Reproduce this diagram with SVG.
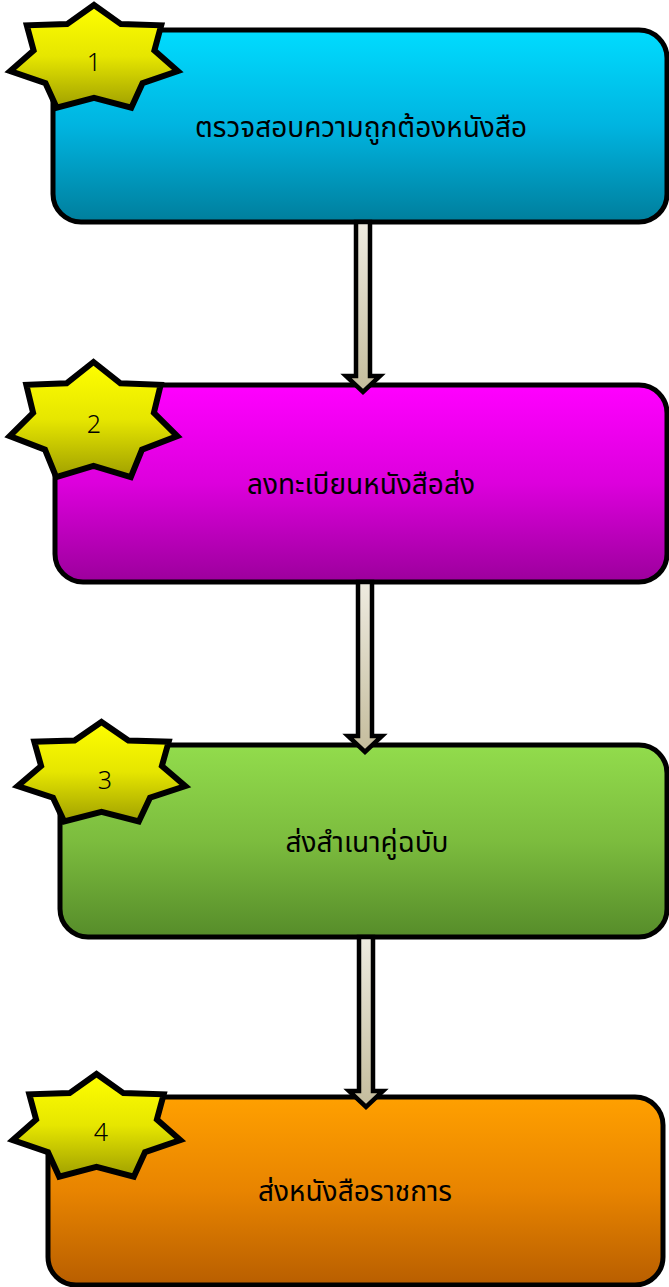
<svg xmlns="http://www.w3.org/2000/svg" width="669" height="1287" viewBox="0 0 669 1287">
<defs>
<linearGradient id="gCyan" x1="0" y1="0" x2="0" y2="1"><stop offset="0" stop-color="#00DCFF"/><stop offset="0.5" stop-color="#00B4E0"/><stop offset="1" stop-color="#007E9C"/></linearGradient>
<linearGradient id="gMag" x1="0" y1="0" x2="0" y2="1"><stop offset="0" stop-color="#FF00FF"/><stop offset="0.5" stop-color="#DC00DC"/><stop offset="1" stop-color="#9C009C"/></linearGradient>
<linearGradient id="gGreen" x1="0" y1="0" x2="0" y2="1"><stop offset="0" stop-color="#92DC4C"/><stop offset="0.5" stop-color="#7CBC3E"/><stop offset="1" stop-color="#568C2A"/></linearGradient>
<linearGradient id="gOrange" x1="0" y1="0" x2="0" y2="1"><stop offset="0" stop-color="#FFA000"/><stop offset="0.5" stop-color="#E88400"/><stop offset="1" stop-color="#B85E00"/></linearGradient>
<linearGradient id="gStar" x1="0" y1="0" x2="0" y2="1"><stop offset="0" stop-color="#FFFF00"/><stop offset="0.5" stop-color="#E6E600"/><stop offset="1" stop-color="#A0A000"/></linearGradient>
<linearGradient id="gArrow" x1="0" y1="0" x2="0" y2="1"><stop offset="0" stop-color="#EEEBE0"/><stop offset="1" stop-color="#C4BC9C"/></linearGradient>
<path id="star" vector-effect="non-scaling-stroke" d="M0,-51.5 L26.9,-33.3 L67.2,-32.1 L60.4,-8.2 L83.8,11.5 L48.5,23.1 L37.3,46.4 L0,37 L-37.3,46.4 L-48.5,23.1 L-83.8,11.5 L-60.4,-8.2 L-67.2,-32.1 L-26.9,-33.3 Z"/>
</defs>
<style>
.box{stroke:#000;stroke-width:5}
.star{fill:url(#gStar);stroke:#000;stroke-width:6;stroke-linejoin:miter}
.arrow{fill:url(#gArrow);stroke:#000;stroke-width:4.5;stroke-linejoin:miter}
.lbl{font-family:"Noto Sans Thai","Noto Sans","DejaVu Sans",sans-serif;font-size:28px;fill:#000;text-anchor:middle}
.num{font-family:"Noto Sans Thai","Noto Sans","DejaVu Sans",sans-serif;font-size:25px;font-weight:300;fill:#000;text-anchor:middle}
</style>
<rect width="669" height="1287" fill="#fff"/>
<g id="node1">
<rect class="box" x="53" y="30" width="614" height="192" rx="28" fill="url(#gCyan)"/>
<text class="lbl" x="361" y="137">ตรวจสอบความถูกต้องหนังสือ</text>
</g>
<g id="node2">
<rect class="box" x="55" y="385" width="612" height="197" rx="28" fill="url(#gMag)"/>
<text class="lbl" x="361" y="494">ลงทะเบียนหนังสือส่ง</text>
</g>
<g id="node3">
<rect class="box" x="60" y="745" width="607" height="192" rx="28" fill="url(#gGreen)"/>
<text class="lbl" x="367" y="852">ส่งสำเนาคู่ฉบับ</text>
</g>
<g id="node4">
<rect class="box" x="48" y="1097" width="615" height="188" rx="28" fill="url(#gOrange)"/>
<text class="lbl" x="355" y="1201">ส่งหนังสือราชการ</text>
</g>
<g id="connectors">
<path class="arrow" d="M356,222 L370,222 L370,376 L380,376 L363,392 L346,376 L356,376 Z"/>
<path class="arrow" d="M358,582 L372,582 L372,736 L382,736 L365,752 L348,736 L358,736 Z"/>
<path class="arrow" d="M359,937 L373,937 L373,1091 L383,1091 L366,1107 L349,1091 L359,1091 Z"/>
</g>
<g id="badge1">
<use href="#star" class="star" transform="translate(94,59) scale(1,1.0485)"/>
<text class="num" x="94" y="71">1</text>
</g>
<g id="badge2">
<use href="#star" class="star" transform="translate(93.5,422.5) scale(1,1.175)"/>
<text class="num" x="94" y="433">2</text>
</g>
<g id="badge3">
<use href="#star" class="star" transform="translate(101.5,774.3) scale(1,1.016)"/>
<text class="num" x="105" y="789">3</text>
</g>
<g id="badge4">
<use href="#star" class="star" transform="translate(96.5,1128) scale(1,1.0485)"/>
<text class="num" x="101" y="1141">4</text>
</g>
</svg>
